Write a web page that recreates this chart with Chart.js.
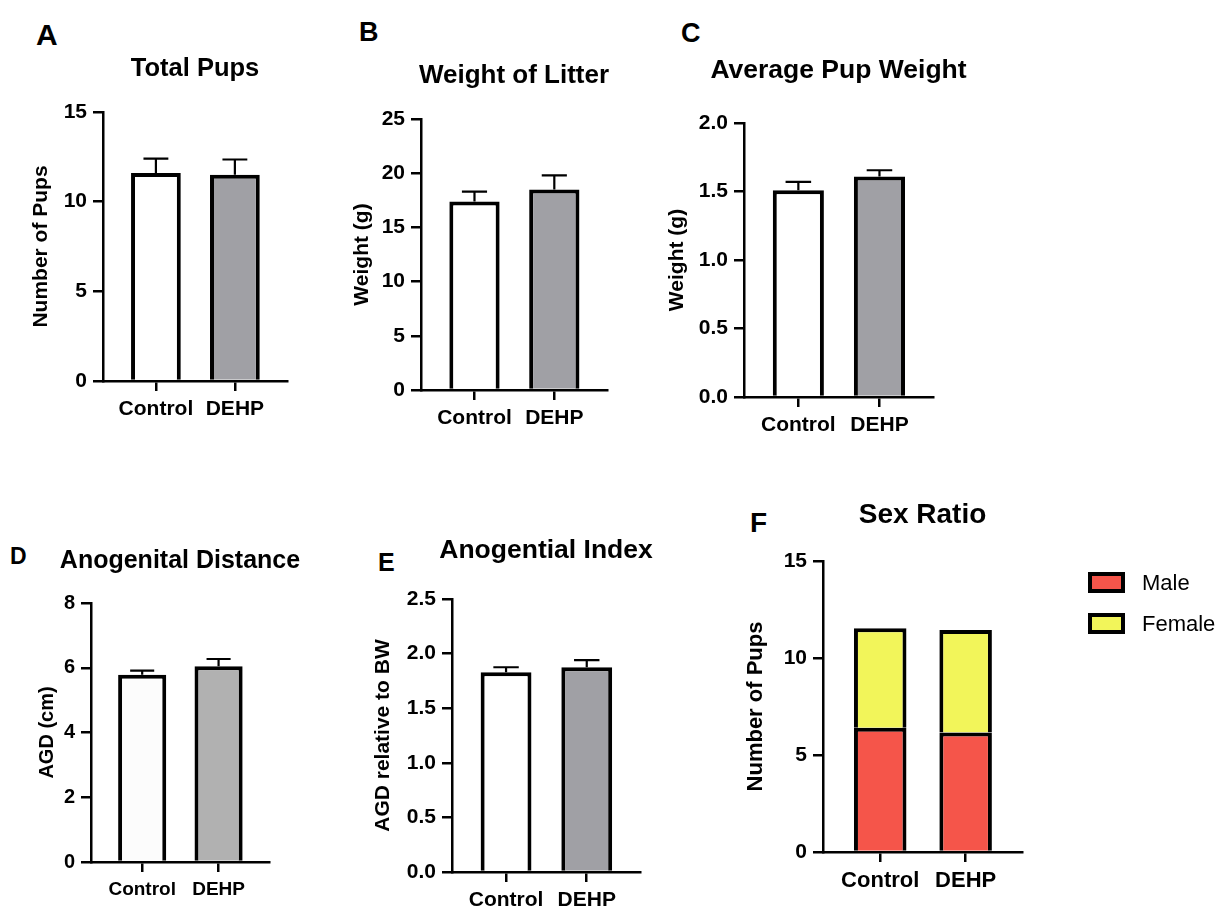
<!DOCTYPE html>
<html>
<head>
<meta charset="utf-8">
<script src="https://cdn.jsdelivr.net/npm/chart.js@4.4.1/dist/chart.umd.min.js"></script>
<style>
  html, body { margin: 0; padding: 0; background: #fff; width: 1221px; height: 907px; overflow: hidden; }
  body { position: relative; font-family: "Liberation Sans", Arial, sans-serif; }
  .panel { position: absolute; }
  .letter { position: absolute; font-weight: bold; line-height: 1; color: #000; font-family: "Liberation Sans", Arial, sans-serif; }
</style>
</head>
<body>
<div class="letter" style="left:36px;top:20px;font-size:30px;">A</div>
<div class="letter" style="left:359px;top:19px;font-size:27px;">B</div>
<div class="letter" style="left:681px;top:20px;font-size:27px;">C</div>
<div class="letter" style="left:10px;top:545px;font-size:23px;">D</div>
<div class="letter" style="left:378px;top:550px;font-size:25px;">E</div>
<div class="letter" style="left:750px;top:509px;font-size:28px;">F</div>

<canvas id="cA" class="panel"></canvas>
<canvas id="cB" class="panel"></canvas>
<canvas id="cC" class="panel"></canvas>
<canvas id="cD" class="panel"></canvas>
<canvas id="cE" class="panel"></canvas>
<canvas id="cF" class="panel"></canvas>

<script>
// ---------------- DATA ----------------
const categories = ['Control', 'DEHP'];

const totalPupsMean = [11.6, 11.5];
const totalPupsSem = [0.8, 0.85];
const totalPupsTicks = [0, 5, 10, 15];

const litterWeightMean = [17.4, 18.5];
const litterWeightSem = [0.9, 1.3];
const litterWeightTicks = [0, 5, 10, 15, 20, 25];

const pupWeightMean = [1.51, 1.61];
const pupWeightSem = [0.06, 0.045];
const pupWeightTicks = [0, 0.5, 1.0, 1.5, 2.0];

const agdMean = [5.78, 6.05];
const agdSem = [0.13, 0.22];
const agdTicks = [0, 2, 4, 6, 8];

const agiMean = [1.83, 1.875];
const agiSem = [0.045, 0.065];
const agiTicks = [0, 0.5, 1.0, 1.5, 2.0, 2.5];

const sexLabels = ['Male', 'Female'];
const malePups = [6.4, 6.16];
const femalePups = [5.13, 5.28];
const sexTicks = [0, 5, 10, 15];

// ---------------- STYLE ----------------
const FONT = '"Liberation Sans", Arial, sans-serif';
Chart.defaults.color = '#000';
Chart.defaults.font.family = FONT;

const errorBarPlugin = {
  id: 'errorBars',
  afterDatasetsDraw(chart, args, opts) {
    const errs = opts && opts.errors;
    if (!errs) return;
    const ctx = chart.ctx;
    const yScale = chart.scales.y;
    const meta = chart.getDatasetMeta(0);
    const ds = chart.data.datasets[0];
    ctx.save();
    ctx.strokeStyle = '#000';
    ctx.lineWidth = 2.2;
    meta.data.forEach((bar, i) => {
      const v = ds.data[i].y;
      const yTop = yScale.getPixelForValue(v + errs[i]);
      const cap = bar.width / 2;
      ctx.beginPath();
      ctx.moveTo(bar.x, bar.y);
      ctx.lineTo(bar.x, yTop);
      ctx.moveTo(bar.x - cap / 2, yTop);
      ctx.lineTo(bar.x + cap / 2, yTop);
      ctx.stroke();
    });
    ctx.restore();
  }
};

const sideLegendPlugin = {
  id: 'sideLegend',
  afterDraw(chart, args, opts) {
    if (!opts || !opts.display) return;
    const ctx = chart.ctx;
    const cv = chart.canvas;
    const offX = parseFloat(cv.style.left), offY = parseFloat(cv.style.top);
    ctx.save();
    chart.data.datasets.forEach((ds, i) => {
      const bx = opts.x - offX, by = opts.y - offY + i * opts.gap;
      ctx.fillStyle = ds.backgroundColor;
      ctx.fillRect(bx, by, opts.boxW, opts.boxH);
      ctx.lineWidth = 4;
      ctx.strokeStyle = '#000';
      ctx.strokeRect(bx, by, opts.boxW, opts.boxH);
      ctx.fillStyle = '#000';
      ctx.font = opts.fontSize + 'px ' + FONT;
      ctx.textBaseline = 'middle';
      ctx.textAlign = 'left';
      ctx.fillText(ds.label, bx + opts.boxW + opts.textGap, by + opts.boxH / 2 + 1);
    });
    ctx.restore();
  }
};

function toPoints(arr) { return arr.map((v, i) => ({ x: i, y: v })); }

function makePanel(id, g, cfg) {
  const cv = document.getElementById(id);
  const centre = (g.ax0 + g.ax1) / 2;
  const fullTitle = !cfg.legend;
  const right = fullTitle ? Math.max(g.ax1 + 30, Math.round(2 * centre - g.left)) : g.right;
  const w = right - g.left, h = g.bottom - g.top;
  cv.width = w; cv.height = h;
  cv.style.left = g.left + 'px'; cv.style.top = g.top + 'px';
  cv.style.width = w + 'px'; cv.style.height = h + 'px';
  const titleLh = g.titleSize * 1.2;
  const stacked = !!cfg.stacked;
  const scales = {
    x: {
      type: 'linear', min: -0.67, max: 1.66, offset: false, stacked: stacked,
      afterBuildTicks: s => { s.ticks = categories.map((c, i) => ({ value: i })); },
      afterFit: s => { s.height = g.bottom - g.ay1; },
      ticks: {
        autoSkip: false, maxRotation: 0, padding: 6, color: '#000',
        font: { family: FONT, size: g.xFont, weight: 'bold' },
        callback: v => categories[v]
      },
      grid: { display: true, offset: false, drawOnChartArea: false, drawTicks: true, tickLength: 10, lineWidth: 2.5, color: '#000' },
      border: { display: true, color: '#000', width: 2.5 }
    },
    y: {
      type: 'linear', min: 0, max: cfg.ticks[cfg.ticks.length - 1], stacked: stacked,
      afterBuildTicks: s => { s.ticks = cfg.ticks.map(v => ({ value: v })); },
      afterFit: s => { s.width = g.ax0 - g.left; },
      ticks: {
        padding: 6, color: '#000',
        font: { family: FONT, size: g.yFont, weight: 'bold' },
        callback: v => cfg.decimals ? Number(v).toFixed(cfg.decimals) : String(v)
      },
      grid: { display: true, drawOnChartArea: false, drawTicks: true, tickLength: 10, lineWidth: 2.5, color: '#000' },
      border: { display: true, color: '#000', width: 2.5 },
      title: {
        display: true, text: cfg.yTitle, color: '#000', padding: 0,
        font: { family: FONT, size: g.yTitleSize, weight: 'bold', lineHeight: 1.2 }
      }
    }
  };
  if (fullTitle) {
    // empty spacer on the right so that the full-width title is centred over the plot
    scales.spacer = {
      type: 'linear', position: 'right', display: true, min: 0, max: 1,
      ticks: { display: false }, grid: { display: false }, border: { display: false },
      afterFit: s => { s.width = right - g.ax1; }
    };
  }
  new Chart(cv, {
    type: 'bar',
    data: { datasets: cfg.datasets },
    plugins: [errorBarPlugin, sideLegendPlugin],
    options: {
      responsive: false,
      animation: false,
      devicePixelRatio: 1,
      layout: { padding: { top: 0, left: 0, bottom: 0, right: fullTitle ? 0 : right - g.ax1 } },
      plugins: {
        legend: { display: false },
        tooltip: { enabled: false },
        title: {
          display: true, text: cfg.title, fullSize: fullTitle, color: '#000',
          font: { family: FONT, size: g.titleSize, weight: 'bold', lineHeight: 1.2 },
          padding: { top: 0, bottom: g.ay0 - g.top - titleLh }
        },
        errorBars: { errors: cfg.errors },
        sideLegend: cfg.legend || { display: false }
      },
      scales: scales
    }
  });
}

function singleDataset(values, colors) {
  return [{
    data: toPoints(values),
    backgroundColor: colors,
    borderColor: '#000',
    borderWidth: 4,
    borderSkipped: 'start',
    barPercentage: 0.63,
    categoryPercentage: 1
  }];
}

const WHITE = '#ffffff', GREY = '#a0a0a5';

makePanel('cA',
  { left: 29, top: 54, bottom: 426, ax0: 103, ay0: 112, ax1: 287, ay1: 381, titleSize: 25.5, yTitleSize: 21, xFont: 21, yFont: 21 },
  { title: 'Total Pups', yTitle: 'Number of Pups', ticks: totalPupsTicks, errors: totalPupsSem,
    datasets: singleDataset(totalPupsMean, [WHITE, GREY]) });

makePanel('cB',
  { left: 350, top: 60, bottom: 435, ax0: 421, ay0: 119, ax1: 607, ay1: 390, titleSize: 26, yTitleSize: 21, xFont: 21, yFont: 21 },
  { title: 'Weight of Litter', yTitle: 'Weight (g)', ticks: litterWeightTicks, errors: litterWeightSem,
    datasets: singleDataset(litterWeightMean, [WHITE, GREY]) });

makePanel('cC',
  { left: 665, top: 55, bottom: 442, ax0: 744, ay0: 123, ax1: 933, ay1: 397, titleSize: 26.5, yTitleSize: 21, xFont: 21, yFont: 21 },
  { title: 'Average Pup Weight', yTitle: 'Weight (g)', ticks: pupWeightTicks, errors: pupWeightSem, decimals: 1,
    datasets: singleDataset(pupWeightMean, [WHITE, GREY]) });

makePanel('cD',
  { left: 35, top: 546, bottom: 907, ax0: 91, ay0: 603, ax1: 269, ay1: 862, titleSize: 25, yTitleSize: 20, xFont: 19, yFont: 20 },
  { title: 'Anogenital Distance', yTitle: 'AGD (cm)', ticks: agdTicks, errors: agdSem,
    datasets: singleDataset(agdMean, ['#fcfcfc', '#b1b1b1']) });

makePanel('cE',
  { left: 371, top: 535, bottom: 917, ax0: 452, ay0: 599, ax1: 640, ay1: 872, titleSize: 26.5, yTitleSize: 21, xFont: 21, yFont: 21 },
  { title: 'Anogential Index', yTitle: 'AGD relative to BW', ticks: agiTicks, errors: agiSem, decimals: 1,
    datasets: singleDataset(agiMean, [WHITE, GREY]) });

makePanel('cF',
  { left: 743, top: 498, right: 1221, bottom: 897, ax0: 823, ay0: 561, ax1: 1022, ay1: 852, titleSize: 28, yTitleSize: 22, xFont: 22, yFont: 21 },
  { title: 'Sex Ratio', yTitle: 'Number of Pups', ticks: sexTicks, stacked: true,
    legend: { display: true, x: 1090, y: 574, boxW: 33, boxH: 17, gap: 41, textGap: 19, fontSize: 22 },
    datasets: [
      { label: sexLabels[0], data: toPoints(malePups), backgroundColor: '#f5554a', borderColor: '#000', borderWidth: 4, borderSkipped: 'start', barPercentage: 0.615, categoryPercentage: 1 },
      { label: sexLabels[1], data: toPoints(femalePups), backgroundColor: '#f2f55a', borderColor: '#000', borderWidth: 4, borderSkipped: 'start', barPercentage: 0.615, categoryPercentage: 1 }
    ] });
</script>
</body>
</html>
